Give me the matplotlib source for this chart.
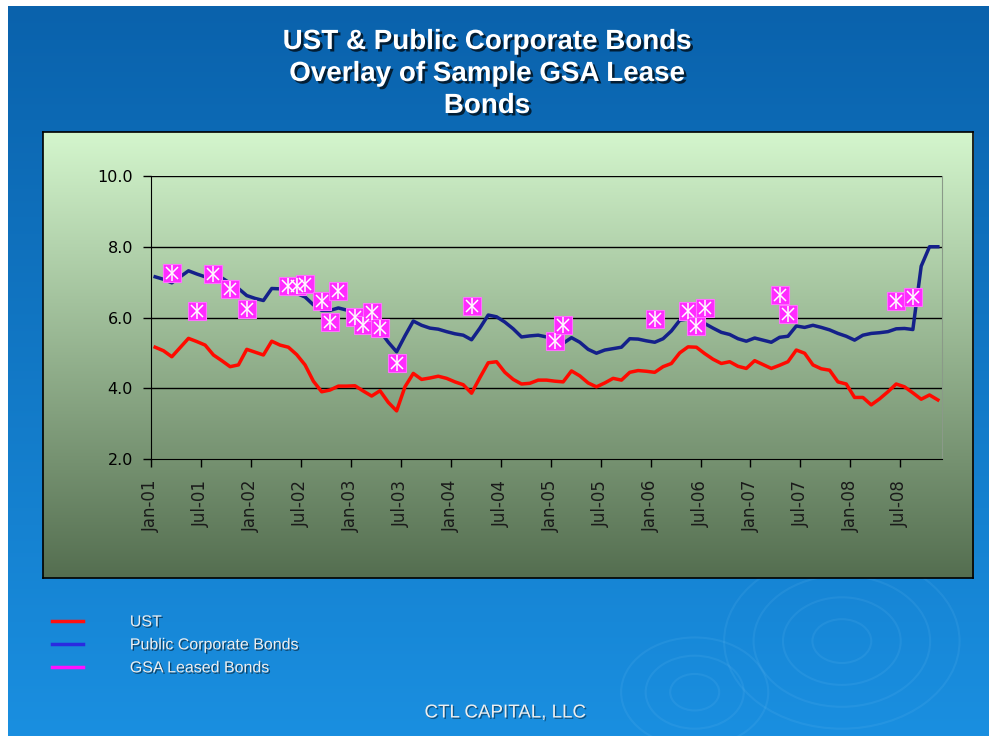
import numpy as np
import matplotlib
matplotlib.use("Agg")
import matplotlib.pyplot as plt
import matplotlib.patheffects as pe
from matplotlib.lines import Line2D
from matplotlib.patches import Circle

plt.rcParams['font.family'] = ['Liberation Sans', 'DejaVu Sans']

# monthly yields, Jan-01 .. Nov-08
ust = [5.16, 5.06, 4.89, 5.15, 5.41, 5.32, 5.22, 4.94, 4.78, 4.61,
       4.66, 5.10, 5.02, 4.94, 5.33, 5.22, 5.16, 4.95, 4.66, 4.20,
       3.90, 3.95, 4.06, 4.06, 4.07, 3.92, 3.78, 3.93, 3.60, 3.36,
       4.04, 4.42, 4.25, 4.29, 4.34, 4.28, 4.18, 4.10, 3.86, 4.30,
       4.72, 4.75, 4.45, 4.25, 4.12, 4.14, 4.23, 4.23, 4.20, 4.18,
       4.49, 4.35, 4.15, 4.04, 4.15, 4.28, 4.23, 4.45, 4.50, 4.48,
       4.45, 4.61, 4.70, 5.00, 5.17, 5.16, 4.98, 4.82, 4.70, 4.75,
       4.62, 4.56, 4.78, 4.67, 4.56, 4.65, 4.75, 5.08, 4.99, 4.66,
       4.55, 4.51, 4.18, 4.12, 3.74, 3.74, 3.53, 3.70, 3.90, 4.12,
       4.04, 3.87, 3.69, 3.81, 3.67]

corp = [7.15, 7.08, 6.98, 7.15, 7.32, 7.23, 7.15, 7.13, 7.12, 6.97,
        6.82, 6.62, 6.54, 6.48, 6.82, 6.81, 6.76, 6.68, 6.58, 6.36,
        6.20, 6.20, 6.27, 6.21, 6.09, 5.93, 5.79, 5.62, 5.30, 5.03,
        5.48, 5.90, 5.78, 5.70, 5.67, 5.60, 5.54, 5.50, 5.37, 5.70,
        6.07, 6.02, 5.87, 5.68, 5.45, 5.48, 5.50, 5.45, 5.35, 5.27,
        5.43, 5.30, 5.10, 4.99, 5.08, 5.12, 5.16, 5.40, 5.39, 5.34,
        5.30, 5.40, 5.62, 5.92, 5.96, 5.90, 5.83, 5.70, 5.58, 5.52,
        5.40, 5.33, 5.42, 5.36, 5.30, 5.44, 5.47, 5.76, 5.72, 5.78,
        5.72, 5.65, 5.55, 5.47, 5.36, 5.50, 5.55, 5.57, 5.60, 5.68,
        5.69, 5.66, 7.45, 8.00, 8.00]

# GSA lease bonds: month index and yield
gsa_month = [2, 5, 7, 9, 11, 16, 17, 18, 20, 21, 22, 24, 25, 26, 27, 29,
             38, 48, 49, 60, 64, 65, 66, 75, 76, 89, 91]
gsa_yield = [7.27, 6.19, 7.24, 6.80, 6.24, 6.89, 6.89, 6.95, 6.46, 5.88,
             6.75, 6.02, 5.79, 6.16, 5.69, 4.70, 6.32, 5.33, 5.79, 5.97,
             6.18, 5.76, 6.26, 6.63, 6.10, 6.47, 6.58]

tick_labels = ['Jan-01', 'Jul-01', 'Jan-02', 'Jul-02', 'Jan-03', 'Jul-03',
               'Jan-04', 'Jul-04', 'Jan-05', 'Jul-05', 'Jan-06', 'Jul-06',
               'Jan-07', 'Jul-07', 'Jan-08', 'Jul-08']
y_ticks = [2.0, 4.0, 6.0, 8.0, 10.0]

W, H = 997, 736
fig = plt.figure(figsize=(W / 100, H / 100), dpi=100)
fig.patch.set_facecolor('white')

# slide background (blue gradient)
bg = fig.add_axes([8 / W, 0, (989 - 8) / W, (H - 6) / H], zorder=0)
top = np.array([10, 98, 172]) / 255
bot = np.array([26, 143, 224]) / 255
t = np.linspace(0, 1, 256)[:, None]
grad = top[None, :] * (1 - t) + bot[None, :] * t
bg.imshow(grad[:, None, :], aspect='auto', extent=[0, 1, 0, 1])
# faint ripples
for cx, cy, rs in [(0.85, 0.13, [0.03, 0.06, 0.09, 0.12]),
                   (0.70, 0.06, [0.025, 0.05, 0.075])]:
    for r in rs:
        bg.add_patch(Circle((cx, cy), r, transform=bg.transAxes, fill=False,
                            ec=(0.6, 0.85, 1.0), lw=1.5, alpha=0.09))
bg.set_xlim(0, 1)
bg.set_ylim(0, 1)
bg.axis('off')

# chart area (green gradient with black frame)
ca = fig.add_axes([43 / W, 1 - 578 / H, 930 / W, 446 / H], zorder=1)
gtop = np.array([212, 246, 205]) / 255
gbot = np.array([84, 110, 80]) / 255
ggrad = gtop[None, :] * (1 - t) + gbot[None, :] * t
ca.imshow(ggrad[:, None, :], aspect='auto', extent=[0, 1, 0, 1])
ca.set_xticks([])
ca.set_yticks([])
for s in ca.spines.values():
    s.set_color('black')
    s.set_linewidth(1.2)

ax = fig.add_axes([151 / W, 1 - 459 / H, (942 - 151) / W, (459 - 176) / H], zorder=2)
ax.patch.set_alpha(0)
x = np.arange(len(ust))
ax.plot(x, ust, color='#ff0a00', lw=2.5, zorder=3)
ax.plot(x, corp, color='#14208a', lw=2.5, zorder=3)
ax.plot(gsa_month, gsa_yield, ls='none', marker='s', ms=13, mfc='#ff2bff',
        mec='#ff70ff', mew=0.8, zorder=4)
ax.plot(gsa_month, gsa_yield, ls='none', marker='x', ms=9, mec='white', mew=1.1, zorder=5)
ax.plot(gsa_month, gsa_yield, ls='none', marker='|', ms=12, mec='white', mew=1.1, zorder=5)

ax.set_xlim(-0.5, len(ust) - 0.5)
ax.set_ylim(2, 10)
ax.set_yticks(y_ticks)
ax.set_yticklabels(['%.1f' % v for v in y_ticks], family='DejaVu Sans')
ax.set_xticks(np.arange(len(tick_labels)) * 6 - 0.5)
ax.set_xticklabels(tick_labels, rotation=90, family='DejaVu Sans')
ax.tick_params(axis='y', length=6, width=1, pad=7, labelsize=11.5, colors='black')
ax.tick_params(axis='x', length=6, width=1, pad=9, labelsize=12, colors='black')
for lab in ax.get_xticklabels():
    lab.set_color('#1a1a1a')
for v in y_ticks[1:]:
    ax.axhline(v, color='black', lw=1, zorder=1)
ax.spines['left'].set_color('black')
ax.spines['bottom'].set_color('black')
ax.spines['top'].set_visible(False)
ax.spines['right'].set_color('#8a9a88')
ax.spines['right'].set_linewidth(0.8)

shadow = [pe.withSimplePatchShadow(offset=(1.8, -1.8), shadow_rgbFace='black', alpha=0.7)]
fig.text(487 / W, 1 - 74 / H,
         'UST & Public Corporate Bonds\nOverlay of Sample GSA Lease\nBonds',
         ha='center', va='center', color='white', fontsize=20, fontweight='bold',
         linespacing=1.3, path_effects=shadow, zorder=5)

handles = [Line2D([], [], color='#ff1010', lw=2.5),
           Line2D([], [], color='#2a2ae0', lw=2.5),
           Line2D([], [], color='#ff10ff', lw=2.5)]
labels = ['UST', 'Public Corporate Bonds', 'GSA Leased Bonds']
leg = fig.legend(handles, labels, loc='upper left', bbox_to_anchor=(38 / W, 1 - 600 / H),
                 frameon=False, fontsize=11.5, handlelength=1.9, handletextpad=2.95,
                 labelspacing=0.5)
for txt in leg.get_texts():
    txt.set_color('#eeeeee')
    txt.set_path_effects([pe.withSimplePatchShadow(offset=(1, -1), shadow_rgbFace='black', alpha=0.5)])
leg.set_zorder(5)

fig.text(505 / W, 1 - 713 / H, 'CTL CAPITAL, LLC', ha='center', va='center',
         color='#eeeeee', fontsize=13.5,
         path_effects=[pe.withSimplePatchShadow(offset=(1, -1), shadow_rgbFace='black', alpha=0.4)],
         zorder=5)

fig.savefig('out.png', dpi=100)
